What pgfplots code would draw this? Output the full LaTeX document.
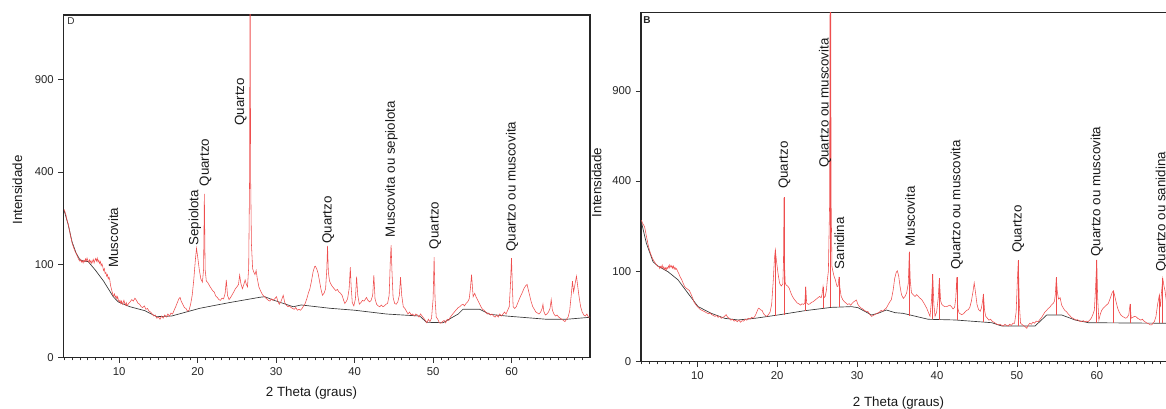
\documentclass[border=0pt]{standalone}
\usepackage{fontspec}
\setmainfont{Liberation Sans}
\usepackage{pgfplots}
\usepackage{pgfplotstable}
\pgfplotsset{compat=1.18}

\definecolor{xrdred}{RGB}{238,78,78}
\definecolor{xrdbase}{RGB}{55,55,55}

% ---------- pattern D (left) ----------
\pgfplotstableread{
x y
3.0 255
3.1 245
3.2 238
3.3 225
3.4 215
3.5 208
3.6 196
3.7 185
3.8 170
3.9 163
4.0 152
4.1 146
4.2 140
4.3 135
4.4 130
4.5 127
4.6 122
4.7 118
4.8 113
4.9 110
5.0 108
5.1 112
5.2 106
5.3 109
5.4 104
5.5 110
5.6 107
5.7 113
5.8 108
5.9 115
6.0 109
6.1 106
6.2 111
6.3 105
6.4 109
6.5 103
6.6 108
6.7 112
6.8 104
6.9 110
7.0 114
7.1 108
7.2 115
7.3 106
7.4 110
7.5 103
7.6 107
7.7 98
7.8 102
7.9 96
8.0 88
8.1 92
8.2 82
8.3 84
8.4 77
8.5 80
8.6 72
8.7 75
8.8 70
8.9 60
9.0 55
9.1 50
9.2 46
9.3 44
9.4 47
9.5 42
9.6 44
9.7 40
9.8 43
9.9 38
10.0 36
10.1 38
10.2 34
10.3 37
10.4 33
10.5 35
10.6 38
10.7 34
10.8 32
10.9 35
11.0 31
11.2 34
11.4 36
11.6 39
11.8 37
12.0 41
12.2 38
12.4 34
12.6 33
12.8 30
13.0 29
13.2 31
13.4 27
13.6 28
13.8 25
14.0 24
14.2 22
14.4 20
14.6 21
14.8 18
15.0 19
15.2 17
15.4 20
15.6 18
15.8 21
16.0 19
16.2 22
16.4 20
16.6 23
16.8 22
17.0 26
17.2 30
17.4 35
17.6 40
17.75 42
17.9 37
18.1 33
18.3 29
18.5 28
18.7 25
18.9 26
19.1 33
19.3 45
19.5 70
19.7 110
19.85 139
20.0 118
20.2 90
20.4 72
20.6 66
20.75 90
20.85 311
20.95 90
21.1 68
21.3 65
21.5 60
21.7 56
21.9 52
22.1 50
22.3 44
22.5 42
22.7 39
22.9 38
23.1 41
23.3 40
23.5 48
23.65 70
23.8 45
24.0 39
24.2 42
24.4 46
24.6 50
24.8 55
25.0 58
25.2 62
25.35 79
25.5 64
25.7 55
25.9 63
26.05 70
26.2 62
26.35 58
26.5 95
26.62 400
26.68 2500
26.74 400
26.85 150
27.0 92
27.15 85
27.3 80
27.45 88
27.6 72
27.8 58
28.0 52
28.2 47
28.4 44
28.6 42
28.8 40
29.0 38
29.2 37
29.4 40
29.6 38
29.8 40
30.05 43
30.2 37
30.4 33
30.6 36
30.9 45
31.1 35
31.3 32
31.5 30
31.7 31
31.9 29
32.1 28
32.3 27
32.5 29
32.7 26
32.9 27
33.1 26
33.3 28
33.5 31
33.7 34
33.9 40
34.1 48
34.3 55
34.5 68
34.7 85
34.9 96
35.0 97
35.2 90
35.35 82
35.5 70
35.7 55
35.9 45
36.1 48
36.3 55
36.45 90
36.55 145
36.65 85
36.8 68
37.0 62
37.2 58
37.4 55
37.6 52
37.8 54
38.0 50
38.2 48
38.4 45
38.6 38
38.75 34
38.9 36
39.1 40
39.3 55
39.45 95
39.55 60
39.7 35
39.9 31
40.1 40
40.25 76
40.4 45
40.6 33
40.8 35
41.0 38
41.2 37
41.4 40
41.5 42
41.7 38
41.9 36
42.1 38
42.3 45
42.45 79
42.6 40
42.8 33
43.0 31
43.2 30
43.4 32
43.6 30
43.8 31
44.0 33
44.2 34
44.4 45
44.55 110
44.65 147
44.75 90
44.9 42
45.1 34
45.3 33
45.5 36
45.7 45
45.85 75
46.0 45
46.2 30
46.4 28
46.6 25
46.8 22
47.0 24
47.2 21
47.4 22
47.6 20
47.8 22
48.0 21
48.2 19
48.4 22
48.6 20
48.8 18
49.0 16
49.2 14
49.4 17
49.6 15
49.8 18
50.0 40
50.13 117
50.25 40
50.4 19
50.6 17
50.8 14
51.0 13.6
51.2 15
51.4 16
51.6 14
51.8 17
52.0 16
52.2 19
52.4 21
52.6 23
52.8 25
53.0 27
53.2 29
53.4 30
53.6 32
53.8 33
54.0 31
54.2 34
54.4 36
54.6 40
54.75 55
54.9 80
55.0 60
55.1 43
55.3 48
55.5 42
55.7 38
55.9 34
56.1 30
56.3 27
56.5 26
56.7 24
56.9 22
57.1 23
57.3 21
57.5 22
57.7 20
57.9 19
58.1 21
58.3 19
58.5 22
58.7 20
58.9 22
59.1 24
59.3 22
59.5 26
59.7 30
59.85 60
59.99 115
60.1 60
60.2 30
60.4 28
60.6 30
60.8 35
61.0 40
61.2 45
61.4 50
61.6 56
61.8 60
61.98 62
62.1 55
62.3 45
62.5 36
62.7 30
62.9 27
63.1 24
63.3 23
63.5 22
63.7 24
63.9 28
64.0 33
64.1 25
64.3 21
64.5 22
64.7 24
64.9 28
65.05 39
65.2 26
65.4 22
65.6 20
65.8 21
66.0 19
66.2 18
66.4 17
66.6 16
66.8 15
67.0 17
67.2 19
67.4 25
67.6 45
67.76 68
67.9 50
68.05 60
68.27 77
68.4 62
68.6 43
68.8 30
69.0 24
69.2 21
69.4 20
69.6 22
69.8 19
70.0 19
}\patD

\pgfplotstableread{
x y
3.0 250
3.5 205
4.0 155
4.5 127
5.0 111
5.5 108
6.05 107
7.0 88
8.0 68
9.24 43
9.87 36
11.36 30
13.27 25.5
14.76 19.4
16.67 20
20.28 28.2
24.0 35
27.92 42.2
28.56 43
29.6 38.5
32.17 30
33.2 32.1
36.84 28.2
40.0 26
44.06 22
48.3 20
49.16 14.4
51.27 14.1
53.2 22
53.8 27
55.95 27
57.2 21.7
59.35 20
64.45 17
67.0 17
70.0 18.8
}\baseD

% ---------- pattern B (right) ----------
\pgfplotstableread{
x y
3.0 245
3.1 238
3.2 232
3.3 228
3.4 222
3.5 210
3.6 196
3.7 184
3.8 172
3.9 162
4.0 153
4.2 140
4.4 130
4.6 123
4.8 117
5.0 112
5.2 110
5.3 106
5.4 111
5.5 108
5.6 114
5.7 106
5.8 110
5.9 104
6.0 108
6.1 103
6.2 109
6.3 106
6.4 112
6.5 108
6.55 115
6.7 109
6.8 113
6.9 107
7.0 112
7.1 105
7.2 109
7.3 104
7.4 106
7.5 101
7.6 98
7.7 94
7.8 90
7.9 86
8.0 84
8.1 80
8.2 76
8.3 73
8.4 69
8.6 66
8.8 64
9.0 62
9.2 56
9.4 50
9.6 43
9.8 40
10.0 37
10.2 35
10.4 33
10.6 32
10.8 31
11.0 30
11.2 29
11.4 28
11.6 29
11.8 27
12.0 26
12.2 25
12.4 26
12.6 24
12.8 25
13.0 23
13.2 24
13.4 25
13.6 27
13.8 24
14.0 23
14.2 21
14.4 22
14.6 20
14.8 21
15.0 19.5
15.2 21
15.4 19
15.6 20.5
15.8 20
16.0 22
16.2 21
16.4 23
16.6 22
16.8 24
17.0 23
17.2 25
17.4 29
17.6 34
17.7 35
17.9 33
18.1 32
18.3 28
18.5 26
18.7 25
18.9 27
19.1 30
19.3 40
19.5 80
19.65 130
19.76 153
19.9 125
20.1 95
20.3 75
20.5 70
20.7 74
20.78 120
20.85 331
20.92 110
21.0 76
21.1 72
21.3 70
21.5 66
21.7 58
21.9 52
22.1 48
22.3 45
22.5 42
22.7 41
22.9 39
23.1 41
23.3 40
23.45 42
23.57 69
23.68 42
23.9 40
24.1 41
24.3 43
24.5 44
24.7 46
24.9 48
25.1 50
25.3 52
25.5 50
25.6 55
25.73 69
25.85 50
26.0 52
26.15 62
26.27 82
26.4 100
26.55 300
26.65 3000
26.75 300
26.85 110
26.98 99
27.1 90
27.27 82
27.4 74
27.5 69
27.62 70
27.73 88
27.85 66
28.0 52
28.2 47
28.4 44
28.6 42
28.8 40
29.0 41
29.2 39
29.4 42
29.6 44
29.9 46.5
30.1 40
30.3 37
30.5 35
30.7 34
30.9 32
31.1 31
31.37 30.5
31.6 27
31.8 25
32.0 26
32.2 27
32.4 28
32.6 29
32.8 30
33.0 32
33.2 31
33.4 33
33.65 35
33.9 40
34.1 44
34.28 47
34.5 62
34.7 85
34.9 98
35.03 101
35.2 90
35.37 69
35.55 55
35.78 49
36.0 52
36.2 58
36.4 75
36.53 148
36.65 80
36.8 58
37.0 55
37.25 52
37.45 55
37.6 53
37.8 50
38.08 47
38.3 43
38.5 39
38.7 35
38.9 30
39.12 25
39.3 45
39.46 94
39.6 40
39.75 25
39.95 30
40.15 50
40.29 85
40.45 45
40.6 40
40.8 38
41.0 37
41.2 37
41.4 38
41.6 39
41.8 37
42.0 34
42.2 36
42.35 50
42.47 87
42.6 35
42.75 29
42.9 28
43.1 27
43.3 28
43.5 30
43.7 32
43.9 33
44.1 36
44.3 45
44.5 60
44.65 76
44.8 60
45.0 40
45.2 33
45.4 31
45.55 35
45.7 45
45.8 56
45.95 32
46.1 25
46.3 23
46.5 21
46.7 22
46.9 20
47.1 19
47.3 18
47.5 17
47.7 16.4
47.9 17
48.1 16
48.3 15.5
48.5 17
48.7 16
48.9 15.5
49.1 17
49.3 16
49.5 18
49.7 17.9
49.9 30
50.05 80
50.17 126
50.3 40
50.45 18
50.6 17
50.8 16
51.0 15
51.23 13.5
51.4 16
51.6 18
51.8 17
52.0 19
52.2 18
52.4 20
52.68 19.6
52.9 22
53.1 24
53.3 27
53.5 30
53.7 32
53.93 34.8
54.1 36
54.3 39
54.55 41.6
54.7 45
54.8 55
54.93 87
55.05 60
55.2 48
55.4 50
55.6 39
55.8 35
56.0 32
56.2 30.5
56.4 28
56.6 26
56.8 24
57.0 23
57.2 22
57.4 21
57.6 21.5
57.8 20
58.1 19.6
58.3 20.5
58.5 19.5
58.7 20
58.9 19.6
59.1 21
59.3 23
59.5 27
59.69 32.6
59.85 70
59.99 127
60.1 50
60.25 21
60.45 28
60.6 32
60.8 35
61.0 37
61.2 39
61.44 41.6
61.7 50
61.9 58
62.07 61.6
62.2 55
62.4 44
62.6 35
62.8 30
63.0 26.6
63.2 25
63.4 24
63.6 23
63.8 24
64.0 27
64.16 40.6
64.3 23
64.5 24
64.7 25
64.9 24.7
65.1 23
65.3 22
65.5 21
65.7 22
65.9 20
66.1 19
66.3 18
66.5 17.5
66.7 16.4
66.87 16.4
67.0 18
67.2 19.6
67.4 25
67.6 40
67.82 54.3
67.95 36.5
68.1 60
68.25 85
68.4 70
68.53 61.6
68.7 45
68.9 35
69.1 28
69.3 25
69.5 23
69.7 22
70.0 21
}\patB

\pgfplotstableread{
x y
2.99 240
3.62 172
4.46 122
5.08 112
6.33 99
7.58 82
8.84 57
10.09 37
11.75 28.5
13.43 22.9
15.1 21.2
17.18 22.9
20.1 26.6
23.44 31.7
26.77 36
29.27 37
30.1 35.6
31.8 26.6
32.6 28.5
33.65 32.6
34.74 29.3
35.75 28.5
38.9 21.9
42.25 21.2
46.85 18.5
48.1 15.5
52.27 15.5
53.73 26.6
55.6 26.6
57.27 21.2
58.94 18.5
70.0 17.9
}\baseB

\pgfplotsset{
  xrd/.style={
    scale only axis,
    xmax=70, ymin=0,
    y coord trafo/.code={\pgfmathparse{sqrt(##1)}},
    y coord inv trafo/.code={\pgfmathparse{(##1)^2}},
    axis line style={black!85, line width=0.9pt},
    tick align=outside,
    xtick pos=bottom, ytick pos=left,
    xtick={10,20,30,40,50,60},
    minor xtick={3,4,...,69},
    ytick={0,100,400,900},
    yticklabels={0,100,400,900},
    major tick length=3.8pt, minor tick length=2.2pt,
    every tick/.style={black!80, line width=0.5pt},
    ticklabel style={font=\fontsize{8.5}{10}\selectfont, text=black!85},
    /pgf/number format/assume math mode=true,
    label style={font=\fontsize{10}{12}\selectfont, text=black!90},
    xlabel={2 Theta (graus)},
    ylabel={Intensidade},
    xlabel style={anchor=center},
    ylabel style={anchor=center},
    clip=true,
  },
  pat/.style={xrdred, line width=0.42pt},
  bas/.style={xrdbase, line width=0.5pt},
  stick/.style={xrdred, line width=0.42pt, forget plot},
}
\tikzset{
  lbl/.style={rotate=90, anchor=west, inner sep=0pt,
    font=\fontsize{10}{12}\selectfont, text=black!90},
}

\begin{document}
\begin{tikzpicture}
% ---------- left: D ----------
\begin{axis}[xrd,
  at={(47.625pt,-268.125pt)}, anchor=south west,
  width=394.9pt, height=256.9pt,
  xmin=2.9, ymax=1365,
  xlabel style={at={(axis description cs:0.471,-0.1028)}},
  ylabel style={at={(axis description cs:-0.0877,0.489)}},
]
  \addplot[bas] table {\baseD};
  \addplot[pat] table {\patD};
  \node[lbl] at (axis cs:9.24,93) {Muscovita};
  \node[lbl] at (axis cs:19.64,145) {Sepiolota};
  \node[lbl] at (axis cs:21.0,340) {Quartzo};
  \node[lbl] at (axis cs:25.47,624) {Quartzo};
  \node[lbl] at (axis cs:36.62,150) {Quartzo};
  \node[lbl] at (axis cs:44.7,168) {Muscovita ou sepiolota};
  \node[lbl] at (axis cs:50.26,136) {Quartzo};
  \node[lbl] at (axis cs:60.06,130) {Quartzo ou muscovita};
  \node[anchor=north west, inner sep=0pt, font=\fontsize{7.5}{8}\selectfont, text=black!80]
    at (axis description cs:0.007,0.992) {D};
\end{axis}

% ---------- right: B ----------
\begin{axis}[xrd,
  at={(480.75pt,-271.125pt)}, anchor=south west,
  width=401.8pt, height=261.6pt,
  xmin=2.95, ymax=1495,
  xlabel style={at={(axis description cs:0.4807,-0.119)}},
  ylabel style={at={(axis description cs:-0.0827,0.513)}},
]
  \addplot[bas] table {\baseB};
  \addplot[pat] table {\patB};
  \addplot[stick] coordinates {(19.76,25.5) (19.76,153)};
  \addplot[stick] coordinates {(20.85,26.4) (20.85,331)};
  \addplot[stick] coordinates {(23.57,31.8) (23.57,69)};
  \addplot[stick] coordinates {(25.73,34.8) (25.73,69)};
  \addplot[stick, line width=0.9pt] coordinates {(26.65,36) (26.65,3000)};
  \addplot[stick] coordinates {(27.73,36.5) (27.73,88)};
  \addplot[stick] coordinates {(36.53,26) (36.53,148)};
  \addplot[stick] coordinates {(39.46,21.7) (39.46,94)};
  \addplot[stick] coordinates {(40.29,21.6) (40.29,85)};
  \addplot[stick] coordinates {(42.47,21.2) (42.47,87)};
  \addplot[stick] coordinates {(45.8,19) (45.8,56)};
  \addplot[stick] coordinates {(50.17,15.5) (50.17,126)};
  \addplot[stick] coordinates {(54.93,26.6) (54.93,87)};
  \addplot[stick] coordinates {(59.99,18.4) (59.99,127)};
  \addplot[stick] coordinates {(62.07,18.4) (62.07,61.6)};
  \addplot[stick] coordinates {(64.16,18.3) (64.16,40.6)};
  \addplot[stick] coordinates {(67.82,18) (67.82,54.3)};
  \addplot[stick] coordinates {(68.25,18) (68.25,85)};
  \node[lbl] at (axis cs:20.89,365) {Quartzo};
  \node[lbl] at (axis cs:25.98,459) {Quartzo ou muscovita};
  \node[lbl] at (axis cs:27.77,104) {Sanidina};
  \node[lbl] at (axis cs:36.62,162) {Muscovita};
  \node[lbl] at (axis cs:42.46,103) {Quartzo ou muscovita};
  \node[lbl] at (axis cs:50.17,144) {Quartzo};
  \node[lbl] at (axis cs:59.99,135) {Quartzo ou muscovita};
  \node[lbl] at (axis cs:68.12,99) {Quartzo ou sanidina};
  \node[anchor=north west, inner sep=0pt, font=\bfseries\fontsize{7.5}{8}\selectfont, text=black!85]
    at (axis description cs:0.004,0.99) {B};
\end{axis}

\pgfresetboundingbox
\path[use as bounding box] (0pt,0pt) rectangle (874.5pt,-306.75pt);
\end{tikzpicture}
\end{document}
